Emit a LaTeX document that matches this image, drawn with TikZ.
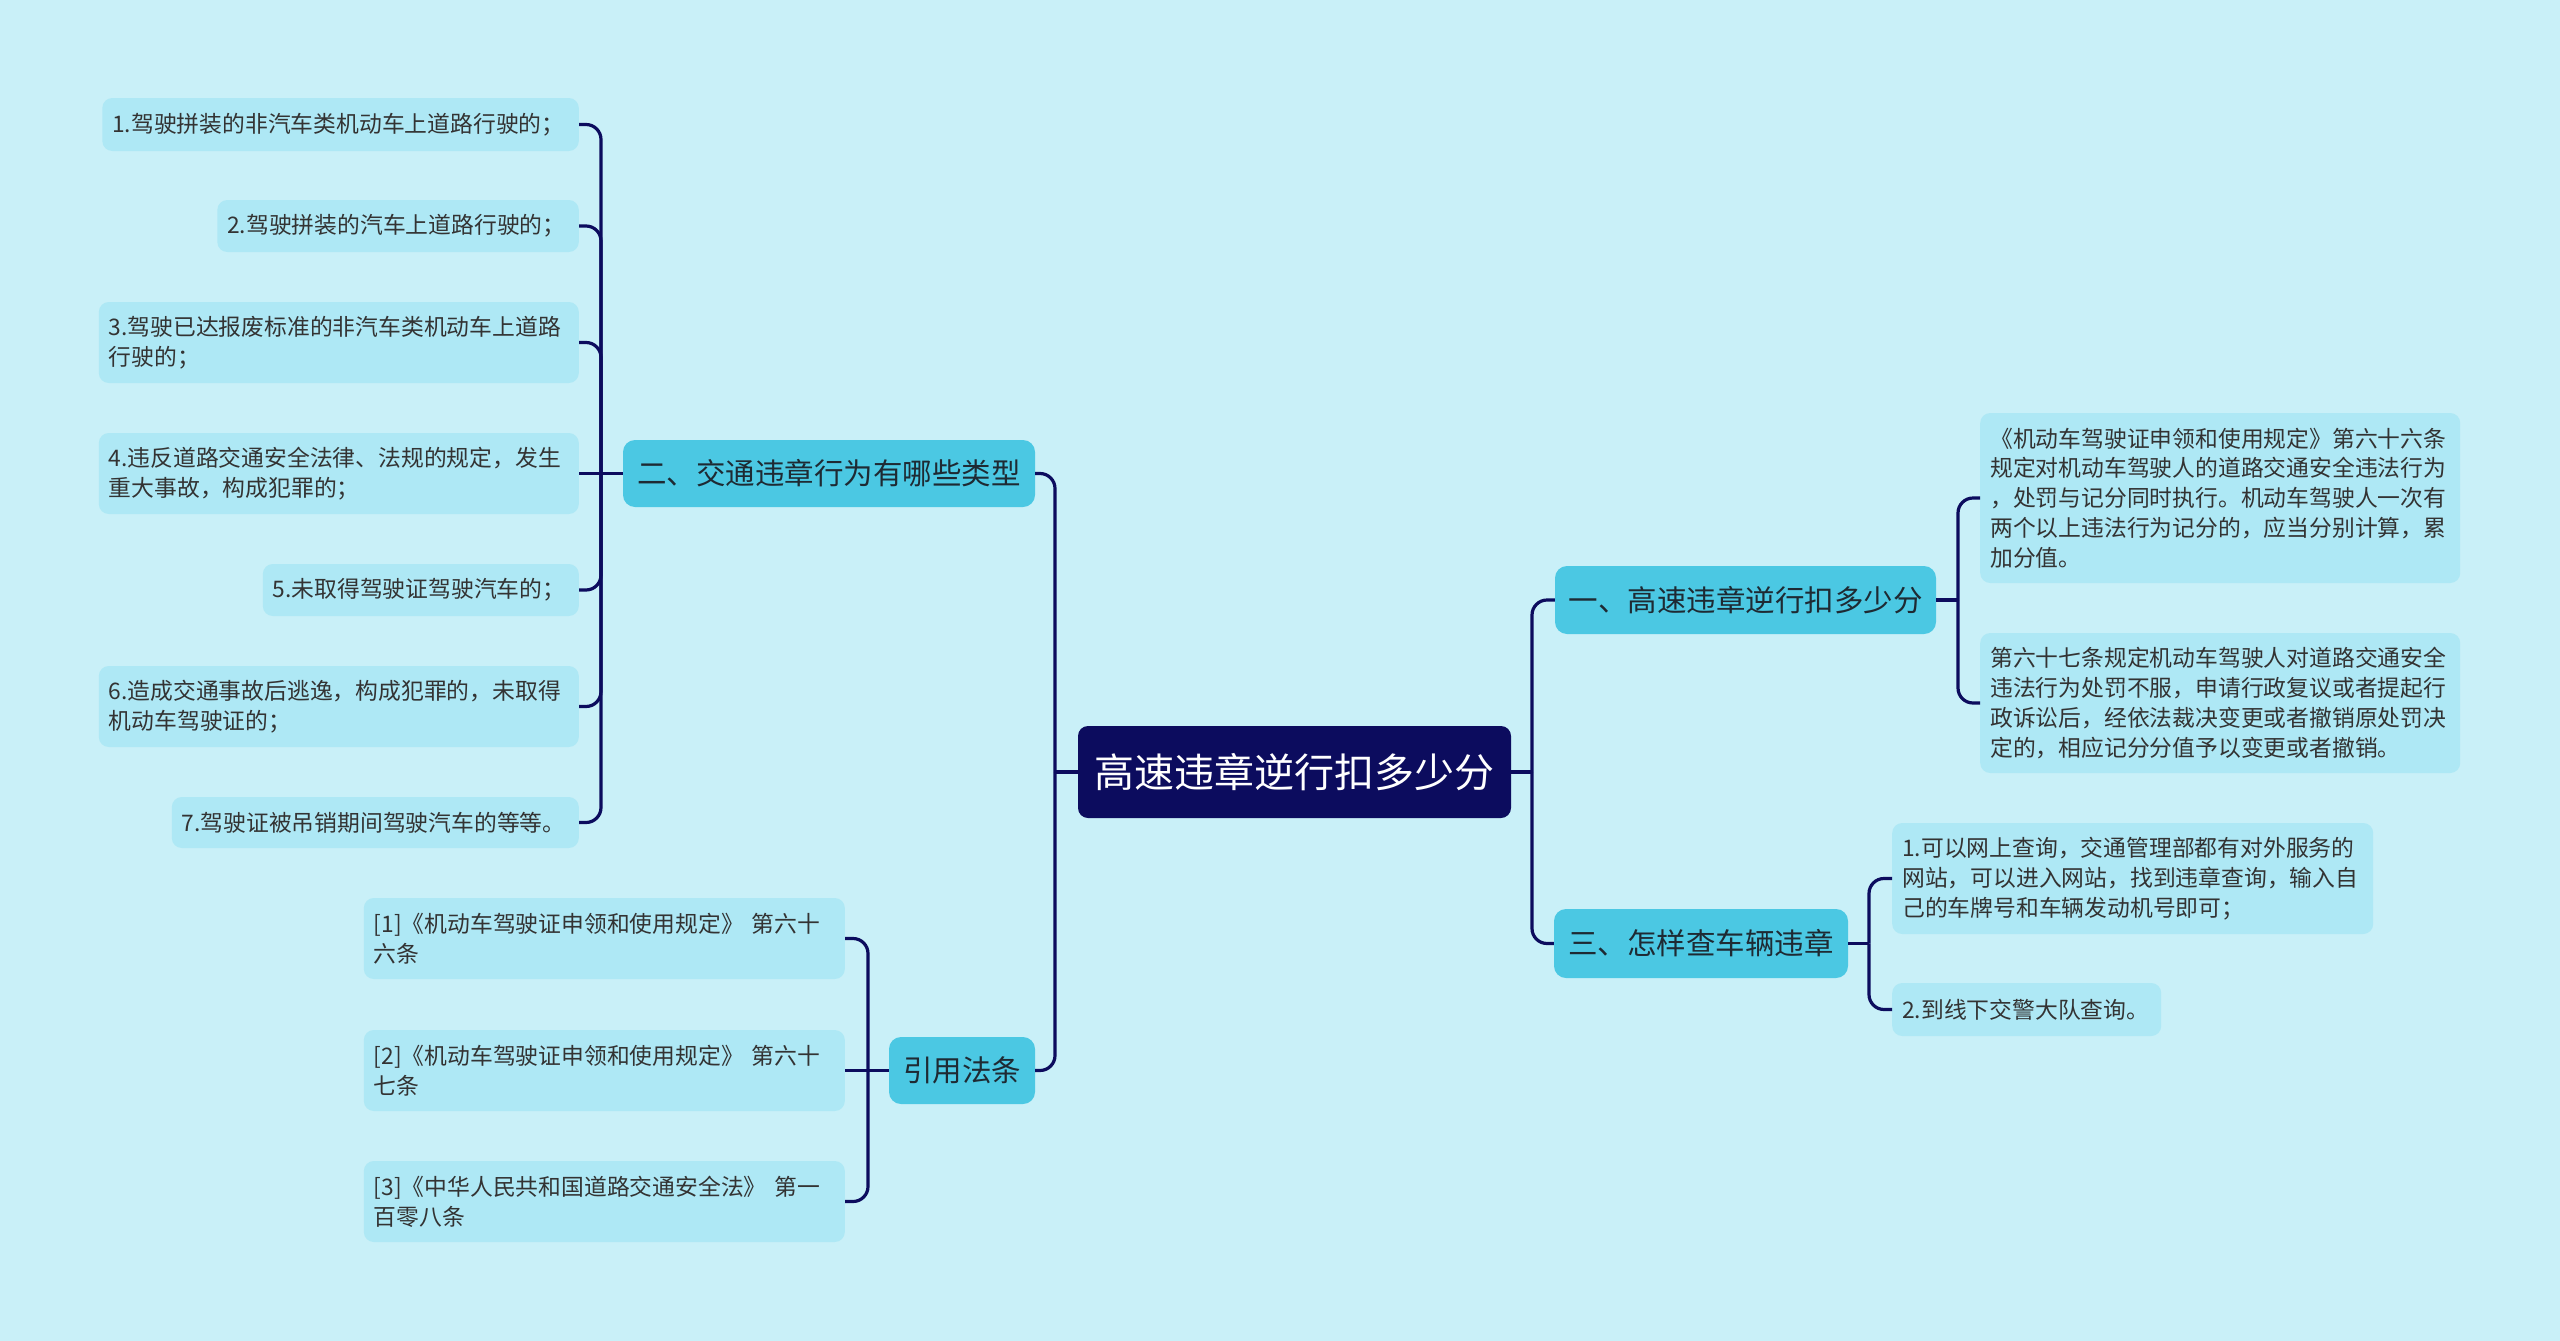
\documentclass[tikz,border=0pt]{standalone}
\usepackage{fontspec}
\setmainfont{Noto Sans CJK SC}
\definecolor{bgc}{HTML}{C9F0F8}
\definecolor{leafc}{HTML}{AEE8F5}
\definecolor{midc}{HTML}{4BC8E3}
\definecolor{rootc}{HTML}{0C0C5E}
\definecolor{linec}{HTML}{0C0C5E}
\definecolor{txtc}{HTML}{333333}
\definecolor{midtxt}{HTML}{1E2A33}
\begin{document}
\begin{tikzpicture}[x=1pt,y=-1pt,
  leafbox/.style={fill=leafc, rounded corners=10pt, text=txtc,
    font=\fontsize{22.8}{29.8}\selectfont, align=left, inner xsep=10pt, inner ysep=0pt},
  midbox/.style={fill=midc, rounded corners=12pt, text=midtxt,
    font=\fontsize{29.5}{36}\selectfont, inner sep=0pt},
  rootbox/.style={fill=rootc, rounded corners=10pt, text=white,
    font=\fontsize{40}{48}\selectfont, inner sep=0pt},
  conn/.style={draw=linec, line width=3.2pt, rounded corners=15pt},
]
\useasboundingbox (0,0) rectangle (2560,1341);
\fill[bgc] (0,0) rectangle (2560,1341);

% root
\node[rootbox, minimum width=433pt, minimum height=92pt] (root) at (1294.5,772) {高速违章逆行扣多少分};

% level 1
\node[midbox, minimum width=412pt, minimum height=67pt] (n2) at (829,473.5) {二、交通违章行为有哪些类型};
\node[midbox, minimum width=381pt, minimum height=68pt] (n1) at (1745.5,600) {一、高速违章逆行扣多少分};
\node[midbox, minimum width=294pt, minimum height=69pt] (n3) at (1701,943.5) {三、怎样查车辆违章};
\node[midbox, minimum width=146pt, minimum height=67pt] (n4) at (962,1070.5) {引用法条};

% left leaves
\node[leafbox, anchor=east, text width=456.5pt, minimum height=53pt] (l1) at (579,124.5) {1.驾驶拼装的非汽车类机动车上道路行驶的；};
\node[leafbox, anchor=east, text width=341.5pt, minimum height=52pt] (l2) at (579,226) {2.驾驶拼装的汽车上道路行驶的；};
\node[leafbox, anchor=east, text width=460pt, minimum height=81pt] (l3) at (579,342.5) {3.驾驶已达报废标准的非汽车类机动车上道路\\行驶的；};
\node[leafbox, anchor=east, text width=460pt, minimum height=81pt] (l4) at (579,473.5) {4.违反道路交通安全法律、法规的规定，发生\\重大事故，构成犯罪的；};
\node[leafbox, anchor=east, text width=296pt, minimum height=52pt] (l5) at (579,590) {5.未取得驾驶证驾驶汽车的；};
\node[leafbox, anchor=east, text width=460pt, minimum height=81pt] (l6) at (579,706.5) {6.造成交通事故后逃逸，构成犯罪的，未取得\\机动车驾驶证的；};
\node[leafbox, anchor=east, text width=387pt, minimum height=51pt] (l7) at (579,822.5) {7.驾驶证被吊销期间驾驶汽车的等等。};

% references
\node[leafbox, anchor=east, text width=461pt, minimum height=81pt] (r1) at (845,938.5) {[1]《机动车驾驶证申领和使用规定》 第六十\\六条};
\node[leafbox, anchor=east, text width=461pt, minimum height=81pt] (r2) at (845,1070.5) {[2]《机动车驾驶证申领和使用规定》 第六十\\七条};
\node[leafbox, anchor=east, text width=461pt, minimum height=81pt] (r3) at (845,1201.5) {[3]《中华人民共和国道路交通安全法》 第一\\百零八条};

% right leaves
\node[leafbox, anchor=west, text width=460pt, minimum height=170pt] (la) at (1980,498) {《机动车驾驶证申领和使用规定》第六十六条\\规定对机动车驾驶人的道路交通安全违法行为\\，处罚与记分同时执行。机动车驾驶人一次有\\两个以上违法行为记分的，应当分别计算，累\\加分值。};
\node[leafbox, anchor=west, text width=460pt, minimum height=140pt] (lb) at (1980,703) {第六十七条规定机动车驾驶人对道路交通安全\\违法行为处罚不服，申请行政复议或者提起行\\政诉讼后，经依法裁决变更或者撤销原处罚决\\定的，相应记分分值予以变更或者撤销。};
\node[leafbox, anchor=west, text width=461pt, minimum height=111pt] (lc) at (1892,878.5) {1.可以网上查询，交通管理部都有对外服务的\\网站，可以进入网站，找到违章查询，输入自\\己的车牌号和车辆发动机号即可；};
\node[leafbox, anchor=west, text width=249pt, minimum height=53pt] (ld) at (1892,1009.5) {2.到线下交警大队查询。};

% junction points
\coordinate (sL) at (1055,772);
\coordinate (sR) at (1532,772);
\coordinate (s2) at (601,473.5);
\coordinate (s4) at (868,1070.5);
\coordinate (s1) at (1958,600);
\coordinate (s3) at (1869,943.5);

% main connectors
\draw[conn] (root.west) -- (sL);
\draw[conn] (sL) |- (n2.east);
\draw[conn] (sL) |- (n4.east);
\draw[conn] (root.east) -- (sR);
\draw[conn] (sR) |- (n1.west);
\draw[conn] (sR) |- (n3.west);

% group 二
\draw[conn] (n2.west) -- (l4.east);
\draw[conn] (s2) |- (l1.east);
\draw[conn] (s2) |- (l2.east);
\draw[conn] (s2) |- (l3.east);
\draw[conn] (s2) |- (l5.east);
\draw[conn] (s2) |- (l6.east);
\draw[conn] (s2) |- (l7.east);

% references
\draw[conn] (n4.west) -- (r2.east);
\draw[conn] (s4) |- (r1.east);
\draw[conn] (s4) |- (r3.east);

% group 一
\draw[conn] (n1.east) -- (s1);
\draw[conn] (s1) |- (la.west);
\draw[conn] (s1) |- (lb.west);

% group 三
\draw[conn] (n3.east) -- (s3);
\draw[conn] (s3) |- (lc.west);
\draw[conn] (s3) |- (ld.west);
\end{tikzpicture}
\end{document}
